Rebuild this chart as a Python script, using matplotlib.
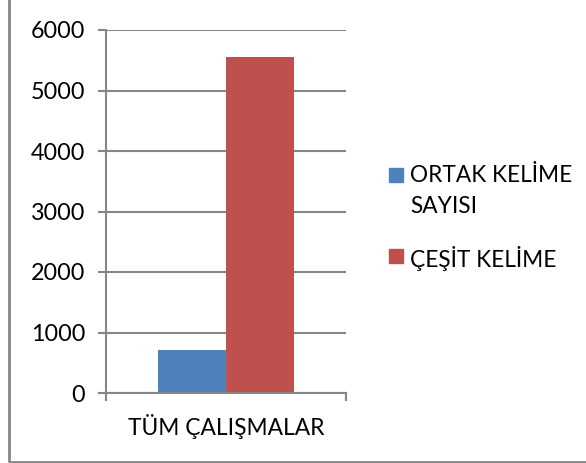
import matplotlib.pyplot as plt
from matplotlib.patches import Rectangle

# data
category = ['TÜM ÇALIŞMALAR']
series_names = ['ORTAK KELİME\nSAYISI', 'ÇEŞİT KELİME']
series_values = [[710], [5560]]
colors = ['#4F81BD', '#C0504D']
yticks = [0, 1000, 2000, 3000, 4000, 5000, 6000]

plt.rcParams['font.family'] = ['Lato', 'DejaVu Sans']
grey = '#868686'

fig = plt.figure(figsize=(5.86, 4.63), dpi=100)
ax = fig.add_axes([106 / 586, 70 / 463, 240 / 586, 363 / 463])

w = 0.283
for i, (vals, c) in enumerate(zip(series_values, colors)):
    off = (i - 0.5) * w
    ax.bar([k + off for k in range(len(category))], vals, width=w, color=c, zorder=2)

ax.set_xlim(-0.5, 0.5)
ax.set_ylim(0, 6000)
ax.set_yticks(yticks)
ax.set_xticks(range(len(category)))
ax.set_xticklabels(category, fontsize=16.4)
ax.set_xticks([-0.5, 0.5], minor=True)
ax.tick_params(axis='x', which='major', length=0, pad=15)
ax.tick_params(axis='x', which='minor', length=6, color=grey, width=1.5)
ax.tick_params(axis='y', length=6, color=grey, width=1.5, labelsize=16.8, pad=9)
ax.grid(axis='y', color=grey, linewidth=1.5, zorder=0)
for s in ['top', 'right']:
    ax.spines[s].set_visible(False)
for s in ['left', 'bottom']:
    ax.spines[s].set_color(grey)
    ax.spines[s].set_linewidth(1.5)

# legend drawn by hand so the square sits next to the first line
leg_y = [175 / 463, 256 / 463]
for name, c, yy in zip(series_names, colors, leg_y):
    fig.patches.append(Rectangle((389 / 586, 1 - yy - 7 / 463), 14 / 586, 14 / 463,
                                 transform=fig.transFigure, color=c))
    fig.text(410 / 586, 1 - yy + 10 / 463, name, fontsize=16.3, va='top', ha='left',
             linespacing=1.6)

# chart border
fig.patches.append(Rectangle((9.5 / 586, 1.5 / 463), 1.2, 1.2, transform=fig.transFigure,
                             fill=False, edgecolor=grey, linewidth=2))

fig.savefig('out.png', dpi=100)
